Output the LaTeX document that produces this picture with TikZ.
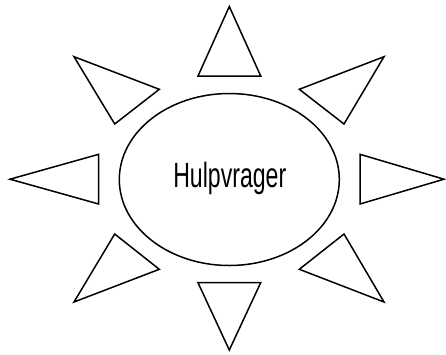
\documentclass[tikz,border=0pt]{standalone}
\usepackage{fontspec}
\setmainfont{Liberation Sans}
\usetikzlibrary{shapes.geometric}
\begin{document}
\begin{tikzpicture}[x=1pt,y=-1pt,
  ray/.style={draw=black,line width=1.5pt,line join=miter},
  sunbody/.style={ellipse,draw=black,line width=1.5pt,minimum width=220pt,minimum height=172pt,inner sep=0pt}]
\useasboundingbox (0,0) rectangle (446,354);
\node[sunbody] (sun) at (229.3,179.5) {};
\node[anchor=base,inner sep=0pt] (lbl) at (229.8,187.3) {\scalebox{0.66}[1]{\fontsize{35}{40}\selectfont Hulpvrager}};
% top
\draw[ray] (229.3,6.5) -- (198,76) -- (260.7,76) -- cycle;
% bottom
\draw[ray] (229.3,350) -- (198,282.7) -- (260.7,282.7) -- cycle;
% left
\draw[ray] (10,179.2) -- (98.7,154.3) -- (98.7,204) -- cycle;
% right
\draw[ray] (444,179.2) -- (360,154.3) -- (360,204) -- cycle;
% upper left
\draw[ray] (74,56.7) -- (159.3,89.3) -- (114.7,124) -- cycle;
% upper right
\draw[ray] (384,56.7) -- (299.3,89.3) -- (344,124) -- cycle;
% lower left
\draw[ray] (114.7,234) -- (159.3,269.3) -- (74,302) -- cycle;
% lower right
\draw[ray] (344,234) -- (299.3,269.3) -- (384,302) -- cycle;
\end{tikzpicture}
\end{document}
